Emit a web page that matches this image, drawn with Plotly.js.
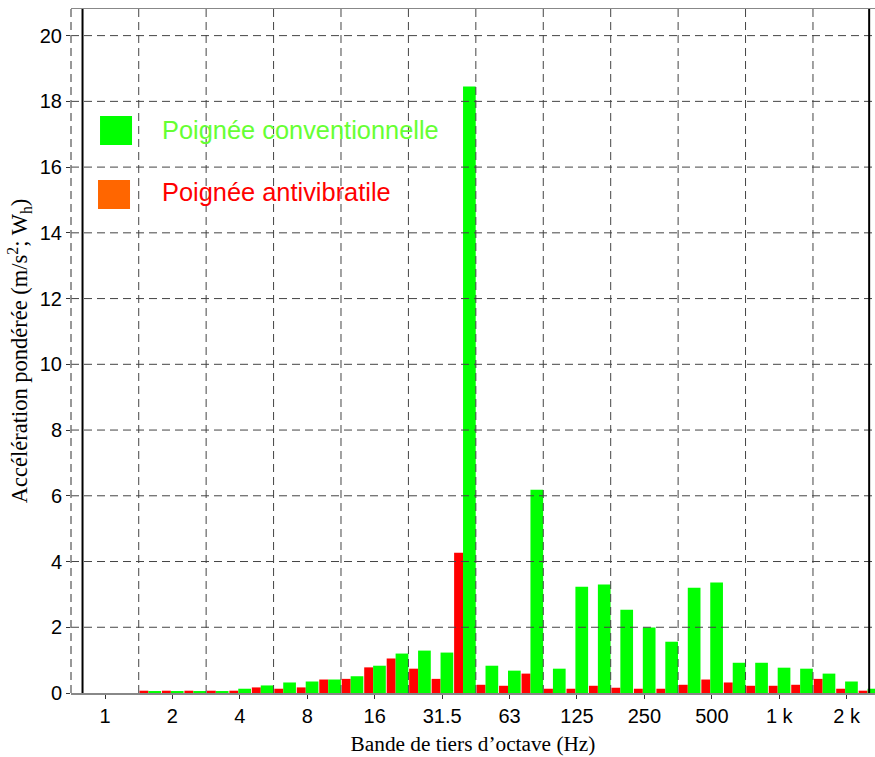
<!DOCTYPE html>
<html>
<head>
<meta charset="utf-8">
<script src="https://cdn.plot.ly/plotly-3.0.1.min.js"></script>
<style>html,body{margin:0;padding:0;background:#fff;}#chart{width:875px;height:757px;}</style>
</head>
<body>
<div id="chart"></div>
<script>
// One-third octave bands (Hz)
const bands = ['1','1.25','1.6','2','2.5','3.15','4','5','6.3','8','10','12.5','16','20','25','31.5','40','50','63','80','100','125','160','200','250','315','400','500','630','800','1000','1250','1600','2000','2500'];
// Weighted acceleration (m/s², Wh)
const conventionnelle = [null,null,0.06,0.06,0.06,0.06,0.13,0.23,0.32,0.35,0.41,0.51,0.83,1.2,1.29,1.23,18.45,0.83,0.68,6.18,0.74,3.23,3.3,2.53,1.99,1.56,3.2,3.36,0.92,0.92,0.77,0.74,0.59,0.35,0.13];
const antivibratile  = [null,null,0.07,0.07,0.07,0.07,0.07,0.17,0.13,0.17,0.41,0.43,0.78,1.05,0.74,0.43,4.27,0.25,0.22,0.59,0.13,0.13,0.22,0.16,0.13,0.13,0.25,0.41,0.32,0.22,0.22,0.25,0.43,0.13,0.07];
// Tick labels
const xTickBands = ['1','2','4','8','16','31.5','63','125','250','500','1000','2000'];
const xTickText  = ['1','2','4','8','16','31.5','63','125','250','500','1 k','2 k'];
const yTicks = [0,2,4,6,8,10,12,14,16,18,20];
const legendLabels = ['Poignée conventionnelle','Poignée antivibratile'];

const traces = [
  {type:'bar', x:bands, y:antivibratile, name:legendLabels[1],
   marker:{color:'#ff0000', line:{width:0}}, offset:-0.467, width:0.397},
  {type:'bar', x:bands, y:conventionnelle, name:legendLabels[0],
   marker:{color:'#00ff00', line:{width:0}}, offset:-0.07, width:0.565}
];

const gridStyle = {color:'#444', width:1, dash:'8px,5px'};
const shapes = [];
yTicks.filter(v => v > 0).forEach(v => shapes.push({type:'line', xref:'paper', x0:0, x1:1, yref:'y', y0:v, y1:v, line:gridStyle, layer:'above'}));
for (let g = 1.5; g < bands.length - 1; g += 3) {
  shapes.push({type:'line', xref:'x', x0:g, x1:g, yref:'paper', y0:0, y1:1, line:gridStyle, layer:'above'});
}
// left dashed frame line
shapes.push({type:'line', xref:'paper', x0:0, x1:0, yref:'paper', y0:0, y1:1, line:{color:'#777', width:1.5, dash:'8px,5px'}, layer:'above'});
// black vertical frame lines
[-1, 34].forEach(v => shapes.push({type:'line', xref:'x', x0:v, x1:v, yref:'paper', y0:0, y1:1, line:{color:'#000', width:2}, layer:'above'}));
// legend swatches
shapes.push({type:'rect', xref:'paper', yref:'paper', x0:0.0361, x1:0.0759, y0:0.8012, y1:0.8436, fillcolor:'#00ff00', line:{width:0}, layer:'above'});
shapes.push({type:'rect', xref:'paper', yref:'paper', x0:0.0336, x1:0.0734, y0:0.7076, y1:0.75, fillcolor:'#ff6600', line:{width:0}, layer:'above'});

const annotations = [
  {xref:'paper', yref:'paper', x:0.1107, y:0.8231, xanchor:'left', yanchor:'middle', showarrow:false,
   text:legendLabels[0], font:{family:'Liberation Sans, Arial, sans-serif', size:25.4, color:'#66ff33'}},
  {xref:'paper', yref:'paper', x:0.1107, y:0.7325, xanchor:'left', yanchor:'middle', showarrow:false,
   text:legendLabels[1], font:{family:'Liberation Sans, Arial, sans-serif', size:25.4, color:'#ff0000'}}
];

const layout = {
  width:875, height:757,
  margin:{l:71, r:0, t:9, b:64, pad:0},
  paper_bgcolor:'#fff', plot_bgcolor:'#fff',
  barmode:'overlay', showlegend:false, hovermode:false,
  font:{family:'Liberation Sans, Arial, sans-serif', size:20, color:'#000'},
  xaxis:{type:'category', range:[-1.513, 34.26], tickmode:'array', tickvals:xTickBands, ticktext:xTickText,
    ticks:'outside', ticklen:4, tickcolor:'#333', showgrid:false, zeroline:false,
    showline:true, linecolor:'#888', linewidth:1.5, mirror:true,
    tickfont:{size:20},
    title:{text:'Bande de tiers d’octave (Hz)', standoff:10, font:{family:'Liberation Serif, Times New Roman, serif', size:21.3}}},
  yaxis:{range:[0, 20.81], tickmode:'array', tickvals:yTicks, ticks:'outside', ticklen:4, tickcolor:'#333',
    showgrid:false, zeroline:false, showline:false, tickfont:{size:20},
    title:{text:'Accélération pondérée (m/s<sup>2</sup>; W<sub>h</sub>)', standoff:5, font:{family:'Liberation Serif, Times New Roman, serif', size:22.5}}},
  shapes:shapes,
  annotations:annotations
};

Plotly.newPlot('chart', traces, layout, {displayModeBar:false, staticPlot:true});
</script>
</body>
</html>
